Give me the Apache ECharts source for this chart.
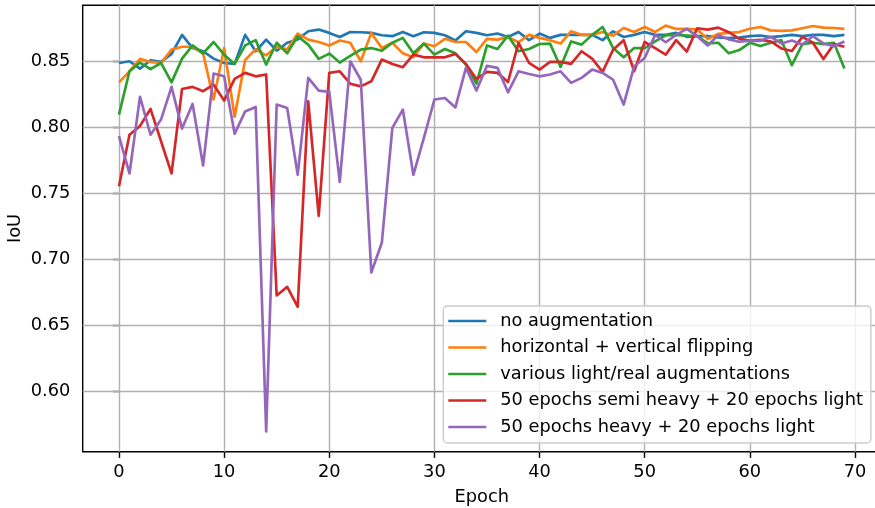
<!DOCTYPE html>
<html>
<head>
<meta charset="utf-8">
<script src="https://cdn.jsdelivr.net/npm/echarts@6/dist/echarts.min.js"></script>
<style>
html,body{margin:0;padding:0;background:#fff;}
#c{width:875px;height:508px;}
</style>
</head>
<body>
<div id="c"></div>
<script>
const epochs = [0,1,2,3,4,5,6,7,8,9,10,11,12,13,14,15,16,17,18,19,20,21,22,23,24,25,26,27,28,29,30,31,32,33,34,35,36,37,38,39,40,41,42,43,44,45,46,47,48,49,50,51,52,53,54,55,56,57,58,59,60,61,62,63,64,65,66,67,68,69];

const seriesNames = [
  'no augmentation',
  'horizontal + vertical flipping',
  'various light/real augmentations',
  '50 epochs semi heavy + 20 epochs light',
  '50 epochs heavy + 20 epochs light'
];
const seriesColors = ['#1f77b4', '#ff7f0e', '#2ca02c', '#d62728', '#9467bd'];

const noAug = [0.8487,0.8500,0.8444,0.8508,0.8495,0.8556,0.8700,0.8600,0.8576,0.8520,
  0.8487,0.8480,0.8700,0.8576,0.8664,0.8580,0.8640,0.8665,0.8727,0.8740,
  0.8715,0.8684,0.8722,0.8720,0.8715,0.8697,0.8690,0.8722,0.8690,0.8720,
  0.8715,0.8697,0.8657,0.8727,0.8715,0.8697,0.8710,0.8684,0.8722,0.8660,
  0.8710,0.8677,0.8700,0.8700,0.8700,0.8700,0.8660,0.8727,0.8684,0.8700,
  0.8722,0.8700,0.8700,0.8715,0.8685,0.8690,0.8690,0.8680,0.8675,0.8680,
  0.8690,0.8695,0.8683,0.8690,0.8700,0.8690,0.8700,0.8700,0.8690,0.8700];

const flipping = [0.8340,0.8424,0.8518,0.8495,0.8487,0.8588,0.8610,0.8610,0.8560,0.8210,
  0.8600,0.8080,0.8510,0.8590,0.8545,0.8610,0.8590,0.8710,0.8664,0.8646,
  0.8620,0.8657,0.8640,0.8500,0.8715,0.8600,0.8640,0.8560,0.8530,0.8634,
  0.8614,0.8670,0.8646,0.8646,0.8570,0.8670,0.8664,0.8684,0.8644,0.8700,
  0.8677,0.8660,0.8634,0.8727,0.8700,0.8700,0.8722,0.8694,0.8752,0.8722,
  0.8760,0.8722,0.8770,0.8745,0.8746,0.8741,0.8668,0.8708,0.8716,0.8721,
  0.8746,0.8760,0.8734,0.8730,0.8734,0.8750,0.8767,0.8755,0.8752,0.8746];

const lightReal = [0.8096,0.8424,0.8490,0.8440,0.8487,0.8340,0.8520,0.8620,0.8560,0.8646,
  0.8550,0.8480,0.8620,0.8660,0.8475,0.8640,0.8560,0.8690,0.8626,0.8518,
  0.8558,0.8490,0.8540,0.8588,0.8600,0.8580,0.8640,0.8677,0.8560,0.8634,
  0.8550,0.8593,0.8560,0.8475,0.8330,0.8620,0.8593,0.8694,0.8576,0.8593,
  0.8631,0.8634,0.8457,0.8650,0.8626,0.8700,0.8760,0.8600,0.8530,0.8600,
  0.8600,0.8650,0.8697,0.8700,0.8695,0.8690,0.8635,0.8640,0.8560,0.8585,
  0.8640,0.8615,0.8640,0.8660,0.8470,0.8630,0.8640,0.8630,0.8640,0.8445];

const semiHeavy = [0.7553,0.7944,0.8010,0.8139,0.7894,0.7650,0.8290,0.8306,0.8273,0.8323,
  0.8202,0.8366,0.8412,0.8386,0.8400,0.6726,0.6791,0.6640,0.8197,0.7328,
  0.8412,0.8424,0.8330,0.8310,0.8348,0.8513,0.8480,0.8455,0.8550,0.8530,
  0.8530,0.8530,0.8556,0.8480,0.8366,0.8420,0.8412,0.8343,0.8639,0.8487,
  0.8437,0.8495,0.8495,0.8480,0.8576,0.8520,0.8420,0.8588,0.8660,0.8424,
  0.8646,0.8600,0.8550,0.8660,0.8573,0.8750,0.8740,0.8755,0.8720,0.8670,
  0.8656,0.8662,0.8650,0.8597,0.8578,0.8685,0.8640,0.8517,0.8630,0.8610];

const heavy = [0.7932,0.7650,0.8230,0.7944,0.8058,0.8306,0.7990,0.8177,0.7710,0.8407,
  0.8386,0.7950,0.8120,0.8154,0.5696,0.8172,0.8146,0.7640,0.8374,0.8278,
  0.8268,0.7586,0.8500,0.8360,0.6900,0.7125,0.7995,0.8134,0.7640,0.7920,
  0.8210,0.8222,0.8150,0.8450,0.8278,0.8465,0.8450,0.8265,0.8424,0.8404,
  0.8386,0.8400,0.8424,0.8336,0.8374,0.8437,0.8412,0.8360,0.8172,0.8462,
  0.8525,0.8700,0.8644,0.8700,0.8745,0.8690,0.8620,0.8698,0.8666,0.8648,
  0.8656,0.8655,0.8685,0.8635,0.8657,0.8627,0.8690,0.8635,0.8615,0.8650];

const xTicks = [0, 10, 20, 30, 40, 50, 60, 70];
const yTicks = [0.60, 0.65, 0.70, 0.75, 0.80, 0.85];
const xTitle = 'Epoch';
const yTitle = 'IoU';

const allValues = [noAug, flipping, lightReal, semiHeavy, heavy];
const FONT = 'DejaVu Sans';
const FS = 17.8;

function pairs(vals) { return epochs.map((e, i) => [e, vals[i]]); }

const gridLines = {
  silent: true,
  z: 1,
  symbol: ['none', 'none'],
  label: { show: false },
  emphasis: { disabled: true },
  animation: false,
  lineStyle: { color: '#b0b0b0', width: 1.4, type: 'solid' },
  data: xTicks.map(v => ({ xAxis: v })).concat(yTicks.map(v => ({ yAxis: v })))
};

const series = allValues.map((vals, i) => ({
  name: seriesNames[i],
  type: 'line',
  data: pairs(vals),
  showSymbol: false,
  symbol: 'none',
  z: 2,
  color: seriesColors[i],
  lineStyle: { width: 2.67, color: seriesColors[i], join: 'round', cap: 'butt' },
  emphasis: { disabled: true },
  animation: false,
  markLine: i === 0 ? gridLines : undefined
}));

const chart = echarts.init(document.getElementById('c'), null, { renderer: 'canvas' });
chart.setOption({
  backgroundColor: '#ffffff',
  animation: false,
  textStyle: { fontFamily: FONT },
  grid: {
    left: 82.7, top: 5.3, width: 798, height: 446.4,
    show: true, borderColor: '#000', borderWidth: 1.4, backgroundColor: '#fff',
    containLabel: false,
    outerBoundsMode: 'none'
  },
  xAxis: {
    type: 'value',
    min: -3.45, max: 72.45,
    name: xTitle,
    nameLocation: 'middle',
    nameGap: 37,
    nameMoveOverlap: false,
    nameTextStyle: { fontFamily: FONT, fontSize: FS, color: '#000' },
    axisLine: { show: false },
    splitLine: { show: false },
    axisTick: { show: true, inside: false, length: 6.2, customValues: xTicks, lineStyle: { color: '#000', width: 1.4 } },
    axisLabel: { customValues: xTicks, margin: 11.5, fontFamily: FONT, fontSize: FS, color: '#000',
      formatter: v => String(Math.round(v)) }
  },
  yAxis: {
    type: 'value',
    min: 0.5542, max: 0.8924,
    name: yTitle,
    nameLocation: 'middle',
    nameGap: 58,
    nameMoveOverlap: false,
    nameTextStyle: { fontFamily: FONT, fontSize: FS, color: '#000' },
    axisLine: { show: false },
    splitLine: { show: false },
    axisTick: { show: true, inside: false, length: 6.2, customValues: yTicks, lineStyle: { color: '#000', width: 1.4 } },
    axisLabel: { customValues: yTicks, margin: 12.4, fontFamily: FONT, fontSize: FS, color: '#000',
      formatter: v => v.toFixed(2) }
  },
  legend: {
    orient: 'vertical',
    left: 443.3, top: 306,
    padding: [6, 8, 7, 5],
    itemWidth: 38, itemHeight: 2.67,
    itemGap: 8.5,
    icon: 'rect',
    backgroundColor: 'rgba(255,255,255,0.8)',
    borderColor: '#cccccc', borderWidth: 1.4, borderRadius: 4,
    selectedMode: false,
    textStyle: { fontFamily: FONT, fontSize: FS, color: '#000', lineHeight: 17, padding: [0, 0, 0, 9] },
    data: seriesNames
  },
  series: series
});
</script>
</body>
</html>
